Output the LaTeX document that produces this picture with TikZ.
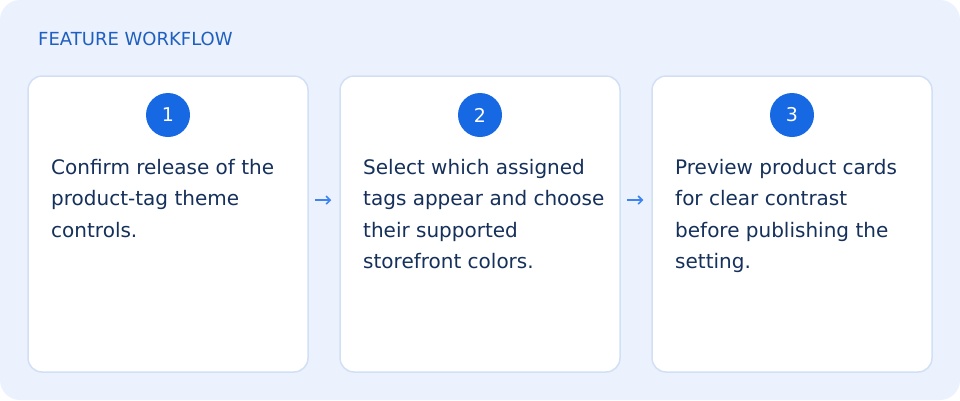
\documentclass[tikz,border=0pt]{standalone}
\usepackage{fontspec}
\setmainfont{DejaVu Sans}
\usetikzlibrary{arrows.meta,positioning}
\definecolor{panelbg}{HTML}{EBF2FE}
\definecolor{cardline}{HTML}{D2E0F5}
\definecolor{badgeblue}{HTML}{1668E3}
\definecolor{bodyink}{HTML}{15305B}
\definecolor{headink}{HTML}{1F5FBF}
\definecolor{arrowblue}{HTML}{3D84F2}
\tikzset{%
  card/.style={draw=cardline,line width=1.5pt,fill=white,rounded corners=14pt,
    minimum width=280pt,minimum height=296pt,inner sep=0pt},
  badge/.style={shape=circle,fill=badgeblue,text=white,minimum size=44pt,inner sep=0pt,
    font=\fontsize{19}{19}\selectfont},
  cardtext/.style={anchor=base west,align=left,inner sep=0pt,text=bodyink,
    font=\fontsize{20}{31.5}\selectfont},
  flowarrow/.style={draw=arrowblue,line width=1.6pt,-{Straight Barb[length=4pt,width=8pt]}}
}
\begin{document}
\begin{tikzpicture}[x=1pt,y=-1pt]
    \useasboundingbox (0,0) rectangle (960,400);
    \fill[panelbg,rounded corners=20pt] (0,0) rectangle (960,400);
    \node[anchor=base west,inner sep=0pt,text=headink,font=\fontsize{18}{18}\selectfont] (title) at (38,45) {FEATURE WORKFLOW};
    \path
      (168,224) node[card] (card1) {} (480,224) node[card] (card2) {} (792,224) node[card] (card3) {};
    \path
      (168,115) node[badge] (badge1) {1} (480,115) node[badge] (badge2) {2} (792,115) node[badge] (badge3) {3};
    % base anchor sits on the last line: 174 + (lines-1)*31.5
    \node[cardtext] (text1) at (51,237) {Confirm release of the\\product-tag theme\\controls.};
    \node[cardtext] (text2) at (363,268.5) {Select which assigned\\tags appear and choose\\their supported\\storefront colors.};
    \node[cardtext] (text3) at (675,268.5) {Preview product cards\\for clear contrast\\before publishing the\\setting.};
    \draw[flowarrow] ([xshift=6pt,yshift=24pt]card1.east) -- ([xshift=-8pt,yshift=24pt]card2.west);
    \draw[flowarrow] ([xshift=6pt,yshift=24pt]card2.east) -- ([xshift=-8pt,yshift=24pt]card3.west);
  \end{tikzpicture}
\end{document}
